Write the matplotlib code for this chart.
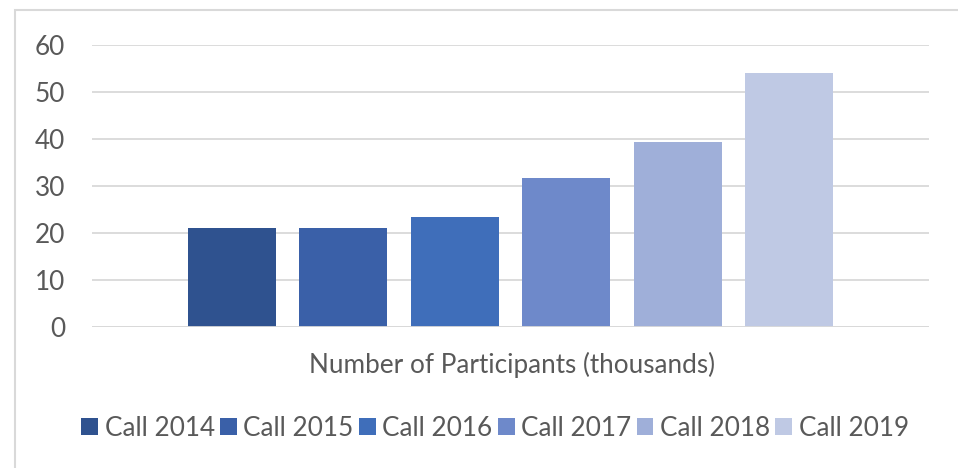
import matplotlib
matplotlib.use("Agg")
import matplotlib.pyplot as plt
from matplotlib.patches import Rectangle

# ── données ──────────────────────────────────────────────
series = ["Call 2014", "Call 2015", "Call 2016", "Call 2017", "Call 2018", "Call 2019"]
values = [21.0, 21.0, 23.4, 31.7, 39.4, 54.1]
colors = ["#2F528F", "#3A60A8", "#3F6EBA", "#6E89CA", "#9FAFD9", "#BFC9E4"]
category = "Number of Participants (thousands)"
yticks = [0, 10, 20, 30, 40, 50, 60]

plt.rcParams["font.family"] = ["Lato", "DejaVu Sans"]
grey = "#595959"
fs = 18.8

fig = plt.figure(figsize=(9.58, 4.68), dpi=100)
ax = fig.add_axes([92/958, 1 - 327/468, (929 - 92)/958, (327 - 45.3)/468])

pitch, width = 0.1333, 0.1053
for i, (lab, v, c) in enumerate(zip(series, values, colors)):
    ax.bar(0.5 + (i - 2.5) * pitch, v, width=width, color=c, label=lab, zorder=3)

ax.set_xlim(0, 1)
ax.set_ylim(0, 60)
ax.set_yticks(yticks)
ax.set_xticks([])
ax.grid(axis="y", color="#D9D9D9", linewidth=1.3, zorder=0)
for s in ax.spines.values():
    s.set_visible(False)
ax.axhline(0, color="#D9D9D9", linewidth=1.3, zorder=4)
ax.tick_params(axis="y", length=0, labelsize=fs, labelcolor=grey, pad=19.5)

fig.text(512/958, 1 - 365/468, category, ha="center", va="center",
         fontsize=fs, color=grey)

ax.legend(loc="center", bbox_to_anchor=(495/958, 1 - 428/468),
          bbox_transform=fig.transFigure, ncol=6, frameon=False,
          fontsize=fs, labelcolor=grey, handlelength=0.65, handleheight=0.65,
          handletextpad=0.25, columnspacing=0.2)

# cadre du graphique (bord gauche et haut visibles)
fig.patches.append(Rectangle((15/958, -0.1), 1.1, 1 - 10/468 + 0.1,
                             transform=fig.transFigure, fill=False,
                             edgecolor="#D9D9D9", linewidth=1.5))

fig.savefig("out.png", dpi=100)
